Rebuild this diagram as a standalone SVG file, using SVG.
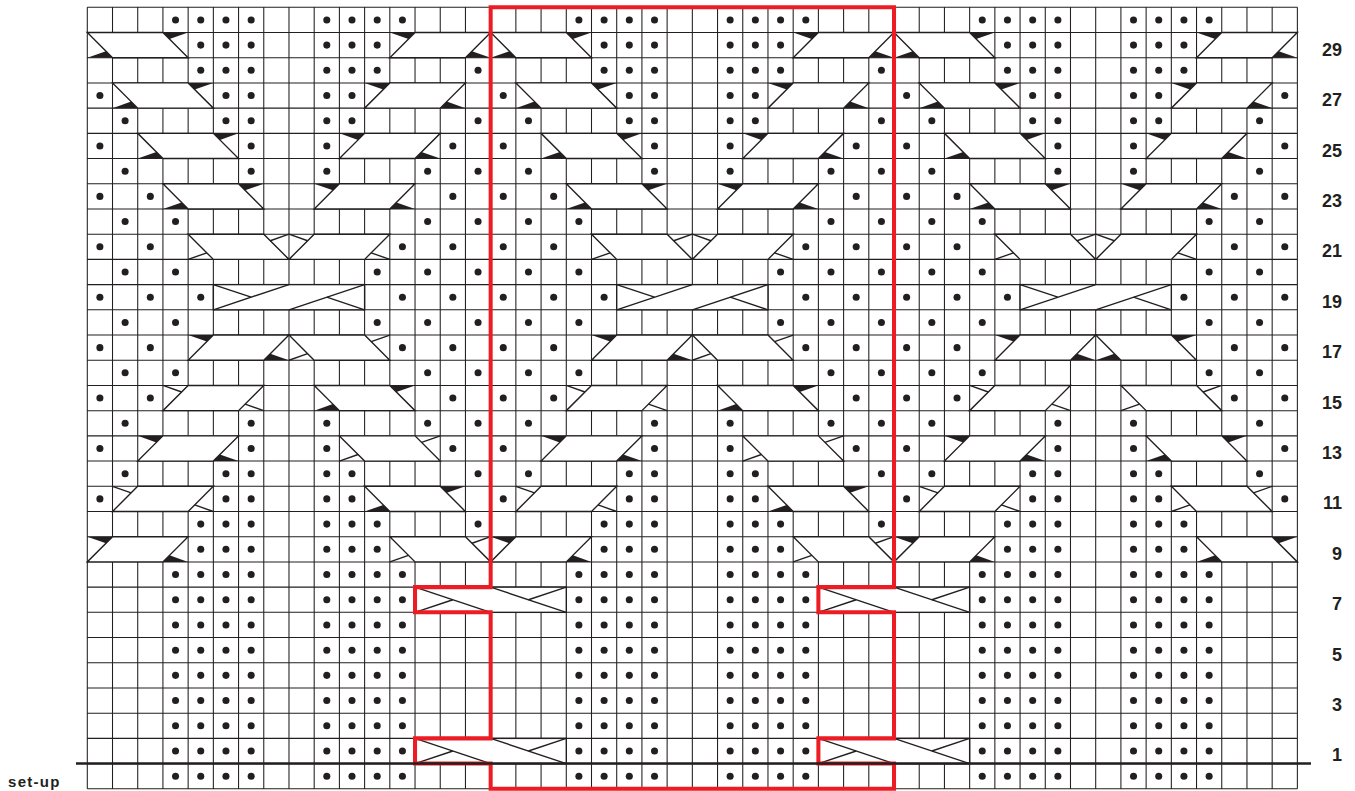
<svg xmlns="http://www.w3.org/2000/svg" xmlns:xlink="http://www.w3.org/1999/xlink" width="1355" height="791" viewBox="0 0 1355 791">
<style>
.lab{font-family:"Liberation Sans",Arial,sans-serif;font-weight:bold;font-size:18px;fill:#231f20}
.setup{font-family:"Liberation Sans",Arial,sans-serif;font-weight:bold;font-size:15px;fill:#231f20;letter-spacing:1.3px}
</style>
<defs>
<g id="halfL">
<g fill="#231f20">
<circle cx="3.5" cy="0.5" r="0.14"/><circle cx="4.5" cy="0.5" r="0.14"/><circle cx="5.5" cy="0.5" r="0.14"/><circle cx="6.5" cy="0.5" r="0.14"/>
<circle cx="4.5" cy="1.5" r="0.14"/><circle cx="5.5" cy="1.5" r="0.14"/><circle cx="6.5" cy="1.5" r="0.14"/>
<circle cx="4.5" cy="2.5" r="0.14"/><circle cx="5.5" cy="2.5" r="0.14"/><circle cx="6.5" cy="2.5" r="0.14"/>
<circle cx="0.5" cy="3.5" r="0.14"/><circle cx="5.5" cy="3.5" r="0.14"/><circle cx="6.5" cy="3.5" r="0.14"/>
<circle cx="1.5" cy="4.5" r="0.14"/><circle cx="5.5" cy="4.5" r="0.14"/><circle cx="6.5" cy="4.5" r="0.14"/>
<circle cx="0.5" cy="5.5" r="0.14"/><circle cx="6.5" cy="5.5" r="0.14"/>
<circle cx="1.5" cy="6.5" r="0.14"/><circle cx="6.5" cy="6.5" r="0.14"/>
<circle cx="0.5" cy="7.5" r="0.14"/><circle cx="2.5" cy="7.5" r="0.14"/>
<circle cx="1.5" cy="8.5" r="0.14"/><circle cx="3.5" cy="8.5" r="0.14"/>
<circle cx="0.5" cy="9.5" r="0.14"/><circle cx="2.5" cy="9.5" r="0.14"/>
<circle cx="1.5" cy="10.5" r="0.14"/><circle cx="3.5" cy="10.5" r="0.14"/>
<circle cx="0.5" cy="11.5" r="0.14"/><circle cx="2.5" cy="11.5" r="0.14"/><circle cx="4.5" cy="11.5" r="0.14"/>
<circle cx="1.5" cy="12.5" r="0.14"/><circle cx="3.5" cy="12.5" r="0.14"/>
<circle cx="0.5" cy="13.5" r="0.14"/><circle cx="2.5" cy="13.5" r="0.14"/>
<circle cx="1.5" cy="14.5" r="0.14"/><circle cx="3.5" cy="14.5" r="0.14"/>
<circle cx="0.5" cy="15.5" r="0.14"/><circle cx="2.5" cy="15.5" r="0.14"/>
<circle cx="1.5" cy="16.5" r="0.14"/><circle cx="6.5" cy="16.5" r="0.14"/>
<circle cx="0.5" cy="17.5" r="0.14"/><circle cx="6.5" cy="17.5" r="0.14"/>
<circle cx="1.5" cy="18.5" r="0.14"/><circle cx="5.5" cy="18.5" r="0.14"/><circle cx="6.5" cy="18.5" r="0.14"/>
<circle cx="0.5" cy="19.5" r="0.14"/><circle cx="5.5" cy="19.5" r="0.14"/><circle cx="6.5" cy="19.5" r="0.14"/>
<circle cx="4.5" cy="20.5" r="0.14"/><circle cx="5.5" cy="20.5" r="0.14"/><circle cx="6.5" cy="20.5" r="0.14"/>
<circle cx="4.5" cy="21.5" r="0.14"/><circle cx="5.5" cy="21.5" r="0.14"/><circle cx="6.5" cy="21.5" r="0.14"/>
<circle cx="3.5" cy="22.5" r="0.14"/><circle cx="4.5" cy="22.5" r="0.14"/><circle cx="5.5" cy="22.5" r="0.14"/><circle cx="6.5" cy="22.5" r="0.14"/>
<circle cx="3.5" cy="23.5" r="0.14"/><circle cx="4.5" cy="23.5" r="0.14"/><circle cx="5.5" cy="23.5" r="0.14"/><circle cx="6.5" cy="23.5" r="0.14"/>
<circle cx="3.5" cy="24.5" r="0.14"/><circle cx="4.5" cy="24.5" r="0.14"/><circle cx="5.5" cy="24.5" r="0.14"/><circle cx="6.5" cy="24.5" r="0.14"/>
<circle cx="3.5" cy="25.5" r="0.14"/><circle cx="4.5" cy="25.5" r="0.14"/><circle cx="5.5" cy="25.5" r="0.14"/><circle cx="6.5" cy="25.5" r="0.14"/>
<circle cx="3.5" cy="26.5" r="0.14"/><circle cx="4.5" cy="26.5" r="0.14"/><circle cx="5.5" cy="26.5" r="0.14"/><circle cx="6.5" cy="26.5" r="0.14"/>
<circle cx="3.5" cy="27.5" r="0.14"/><circle cx="4.5" cy="27.5" r="0.14"/><circle cx="5.5" cy="27.5" r="0.14"/><circle cx="6.5" cy="27.5" r="0.14"/>
<circle cx="3.5" cy="28.5" r="0.14"/><circle cx="4.5" cy="28.5" r="0.14"/><circle cx="5.5" cy="28.5" r="0.14"/><circle cx="6.5" cy="28.5" r="0.14"/>
<circle cx="3.5" cy="29.5" r="0.14"/><circle cx="4.5" cy="29.5" r="0.14"/><circle cx="5.5" cy="29.5" r="0.14"/><circle cx="6.5" cy="29.5" r="0.14"/>
<circle cx="3.5" cy="30.5" r="0.14"/><circle cx="4.5" cy="30.5" r="0.14"/><circle cx="5.5" cy="30.5" r="0.14"/><circle cx="6.5" cy="30.5" r="0.14"/>
</g>
<g stroke="#231f20" stroke-width="0.055" fill="#fff">
<polygon points="0,1 3,1 4,2 1,2"/>
<polygon points="1,3 4,3 5,4 2,4"/>
<polygon points="2,5 5,5 6,6 3,6"/>
<polygon points="3,7 6,7 7,8 4,8"/>
<polygon points="4,9 7,9 8,10 5,10"/>
<polygon points="5,13 8,13 7,14 4,14"/>
<polygon points="4,15 7,15 6,16 3,16"/>
<polygon points="3,17 6,17 5,18 2,18"/>
<polygon points="2,19 5,19 4,20 1,20"/>
<polygon points="1,21 4,21 3,22 0,22"/>
<line x1="4" y1="10" x2="4.74" y2="9.74"/><line x1="8" y1="9" x2="7.26" y2="9.26"/>
<line x1="3" y1="15" x2="3.74" y2="15.26"/><line x1="7" y1="16" x2="6.26" y2="15.74"/>
<line x1="1" y1="19" x2="1.74" y2="19.26"/><line x1="5" y1="20" x2="4.26" y2="19.74"/>
</g>
<g fill="#231f20">
<polygon points="0,2 1,2 0.74,1.74"/><polygon points="4,1 3,1 3.26,1.26"/>
<polygon points="1,4 2,4 1.74,3.74"/><polygon points="5,3 4,3 4.26,3.26"/>
<polygon points="2,6 3,6 2.74,5.74"/><polygon points="6,5 5,5 5.26,5.26"/>
<polygon points="3,8 4,8 3.74,7.74"/><polygon points="7,7 6,7 6.26,7.26"/>
<polygon points="4,13 5,13 4.74,13.26"/><polygon points="8,14 7,14 7.26,13.74"/>
<polygon points="2,17 3,17 2.74,17.26"/><polygon points="6,18 5,18 5.26,17.74"/>
<polygon points="0,21 1,21 0.74,21.26"/><polygon points="4,22 3,22 3.26,21.74"/>
</g>
</g>
<g id="halfR">
<g fill="#231f20">
<circle cx="9.5" cy="0.5" r="0.14"/><circle cx="10.5" cy="0.5" r="0.14"/><circle cx="11.5" cy="0.5" r="0.14"/><circle cx="12.5" cy="0.5" r="0.14"/>
<circle cx="9.5" cy="1.5" r="0.14"/><circle cx="10.5" cy="1.5" r="0.14"/><circle cx="11.5" cy="1.5" r="0.14"/>
<circle cx="9.5" cy="2.5" r="0.14"/><circle cx="10.5" cy="2.5" r="0.14"/><circle cx="11.5" cy="2.5" r="0.14"/><circle cx="15.5" cy="2.5" r="0.14"/>
<circle cx="9.5" cy="3.5" r="0.14"/><circle cx="10.5" cy="3.5" r="0.14"/>
<circle cx="9.5" cy="4.5" r="0.14"/><circle cx="10.5" cy="4.5" r="0.14"/><circle cx="15.5" cy="4.5" r="0.14"/>
<circle cx="9.5" cy="5.5" r="0.14"/><circle cx="14.5" cy="5.5" r="0.14"/>
<circle cx="9.5" cy="6.5" r="0.14"/><circle cx="13.5" cy="6.5" r="0.14"/><circle cx="15.5" cy="6.5" r="0.14"/>
<circle cx="14.5" cy="7.5" r="0.14"/>
<circle cx="13.5" cy="8.5" r="0.14"/><circle cx="15.5" cy="8.5" r="0.14"/>
<circle cx="12.5" cy="9.5" r="0.14"/><circle cx="14.5" cy="9.5" r="0.14"/>
<circle cx="11.5" cy="10.5" r="0.14"/><circle cx="13.5" cy="10.5" r="0.14"/><circle cx="15.5" cy="10.5" r="0.14"/>
<circle cx="12.5" cy="11.5" r="0.14"/><circle cx="14.5" cy="11.5" r="0.14"/>
<circle cx="11.5" cy="12.5" r="0.14"/><circle cx="13.5" cy="12.5" r="0.14"/><circle cx="15.5" cy="12.5" r="0.14"/>
<circle cx="12.5" cy="13.5" r="0.14"/><circle cx="14.5" cy="13.5" r="0.14"/>
<circle cx="13.5" cy="14.5" r="0.14"/><circle cx="15.5" cy="14.5" r="0.14"/>
<circle cx="14.5" cy="15.5" r="0.14"/>
<circle cx="9.5" cy="16.5" r="0.14"/><circle cx="13.5" cy="16.5" r="0.14"/><circle cx="15.5" cy="16.5" r="0.14"/>
<circle cx="9.5" cy="17.5" r="0.14"/><circle cx="14.5" cy="17.5" r="0.14"/>
<circle cx="9.5" cy="18.5" r="0.14"/><circle cx="10.5" cy="18.5" r="0.14"/><circle cx="15.5" cy="18.5" r="0.14"/>
<circle cx="9.5" cy="19.5" r="0.14"/><circle cx="10.5" cy="19.5" r="0.14"/>
<circle cx="9.5" cy="20.5" r="0.14"/><circle cx="10.5" cy="20.5" r="0.14"/><circle cx="11.5" cy="20.5" r="0.14"/><circle cx="15.5" cy="20.5" r="0.14"/>
<circle cx="9.5" cy="21.5" r="0.14"/><circle cx="10.5" cy="21.5" r="0.14"/><circle cx="11.5" cy="21.5" r="0.14"/>
<circle cx="9.5" cy="22.5" r="0.14"/><circle cx="10.5" cy="22.5" r="0.14"/><circle cx="11.5" cy="22.5" r="0.14"/><circle cx="12.5" cy="22.5" r="0.14"/>
<circle cx="9.5" cy="23.5" r="0.14"/><circle cx="10.5" cy="23.5" r="0.14"/><circle cx="11.5" cy="23.5" r="0.14"/><circle cx="12.5" cy="23.5" r="0.14"/>
<circle cx="9.5" cy="24.5" r="0.14"/><circle cx="10.5" cy="24.5" r="0.14"/><circle cx="11.5" cy="24.5" r="0.14"/><circle cx="12.5" cy="24.5" r="0.14"/>
<circle cx="9.5" cy="25.5" r="0.14"/><circle cx="10.5" cy="25.5" r="0.14"/><circle cx="11.5" cy="25.5" r="0.14"/><circle cx="12.5" cy="25.5" r="0.14"/>
<circle cx="9.5" cy="26.5" r="0.14"/><circle cx="10.5" cy="26.5" r="0.14"/><circle cx="11.5" cy="26.5" r="0.14"/><circle cx="12.5" cy="26.5" r="0.14"/>
<circle cx="9.5" cy="27.5" r="0.14"/><circle cx="10.5" cy="27.5" r="0.14"/><circle cx="11.5" cy="27.5" r="0.14"/><circle cx="12.5" cy="27.5" r="0.14"/>
<circle cx="9.5" cy="28.5" r="0.14"/><circle cx="10.5" cy="28.5" r="0.14"/><circle cx="11.5" cy="28.5" r="0.14"/><circle cx="12.5" cy="28.5" r="0.14"/>
<circle cx="9.5" cy="29.5" r="0.14"/><circle cx="10.5" cy="29.5" r="0.14"/><circle cx="11.5" cy="29.5" r="0.14"/><circle cx="12.5" cy="29.5" r="0.14"/>
<circle cx="9.5" cy="30.5" r="0.14"/><circle cx="10.5" cy="30.5" r="0.14"/><circle cx="11.5" cy="30.5" r="0.14"/><circle cx="12.5" cy="30.5" r="0.14"/>
</g>
<g stroke="#231f20" stroke-width="0.055" fill="#fff">
<polygon points="13,1 16,1 15,2 12,2"/>
<polygon points="12,3 15,3 14,4 11,4"/>
<polygon points="11,5 14,5 13,6 10,6"/>
<polygon points="10,7 13,7 12,8 9,8"/>
<polygon points="9,9 12,9 11,10 8,10"/>
<polygon points="8,13 11,13 12,14 9,14"/>
<polygon points="9,15 12,15 13,16 10,16"/>
<polygon points="10,17 13,17 14,18 11,18"/>
<polygon points="11,19 14,19 15,20 12,20"/>
<polygon points="12,21 15,21 16,22 13,22"/>
<line x1="8" y1="9" x2="8.74" y2="9.26"/><line x1="12" y1="10" x2="11.26" y2="9.74"/>
<line x1="8" y1="14" x2="8.74" y2="13.74"/><line x1="12" y1="13" x2="11.26" y2="13.26"/>
<line x1="10" y1="18" x2="10.74" y2="17.74"/><line x1="14" y1="17" x2="13.26" y2="17.26"/>
<line x1="12" y1="22" x2="12.74" y2="21.74"/><line x1="16" y1="21" x2="15.26" y2="21.26"/>
</g>
<g fill="#231f20">
<polygon points="12,1 13,1 12.74,1.26"/><polygon points="16,2 15,2 15.26,1.74"/>
<polygon points="11,3 12,3 11.74,3.26"/><polygon points="15,4 14,4 14.26,3.74"/>
<polygon points="10,5 11,5 10.74,5.26"/><polygon points="14,6 13,6 13.26,5.74"/>
<polygon points="9,7 10,7 9.74,7.26"/><polygon points="13,8 12,8 12.26,7.74"/>
<polygon points="9,16 10,16 9.74,15.74"/><polygon points="13,15 12,15 12.26,15.26"/>
<polygon points="11,20 12,20 11.74,19.74"/><polygon points="15,19 14,19 14.26,19.26"/>
</g>
</g>
<g id="cross19" stroke="#231f20" stroke-width="0.055">
<rect x="5" y="11" width="6" height="1" fill="#fff"/>
<line x1="5" y1="12" x2="8" y2="11"/>
<line x1="8" y1="12" x2="11" y2="11"/>
<line x1="5" y1="11" x2="6.5" y2="11.5"/>
<line x1="9.5" y1="11.5" x2="11" y2="12"/>
</g>
<g id="cross6" stroke="#231f20" stroke-width="0.055">
<rect x="0" y="0" width="6" height="1" fill="#fff"/>
<line x1="0" y1="0" x2="3" y2="1"/>
<line x1="0" y1="1" x2="1.5" y2="0.5"/>
<line x1="3" y1="0" x2="6" y2="1"/>
<line x1="4.5" y1="0.5" x2="6" y2="0"/>
</g>
</defs>
<rect x="0" y="0" width="1355" height="791" fill="#fff"/>
<g id="chart" transform="translate(87.3 7.3) scale(25.21)">
<path id="grid" fill="none" stroke="#231f20" stroke-width="0.042" d="M0 0V31M1 0V31M2 0V31M3 0V31M4 0V31M5 0V31M6 0V31M7 0V31M8 0V31M9 0V31M10 0V31M11 0V31M12 0V31M13 0V31M14 0V31M15 0V31M16 0V31M17 0V31M18 0V31M19 0V31M20 0V31M21 0V31M22 0V31M23 0V31M24 0V31M25 0V31M26 0V31M27 0V31M28 0V31M29 0V31M30 0V31M31 0V31M32 0V31M33 0V31M34 0V31M35 0V31M36 0V31M37 0V31M38 0V31M39 0V31M40 0V31M41 0V31M42 0V31M43 0V31M44 0V31M45 0V31M46 0V31M47 0V31M48 0V31M0 0H48M0 1H48M0 2H48M0 3H48M0 4H48M0 5H48M0 6H48M0 7H48M0 8H48M0 9H48M0 10H48M0 11H48M0 12H48M0 13H48M0 14H48M0 15H48M0 16H48M0 17H48M0 18H48M0 19H48M0 20H48M0 21H48M0 22H48M0 23H48M0 24H48M0 25H48M0 26H48M0 27H48M0 28H48M0 29H48M0 30H48M0 31H48"/>
<g id="repeat1">
<use xlink:href="#halfL" href="#halfL"/>
<use xlink:href="#halfR" href="#halfR"/>
<use xlink:href="#cross19" href="#cross19"/>
</g>
<g id="repeat2" transform="translate(16 0)">
<use xlink:href="#halfL" href="#halfL"/>
<use xlink:href="#halfR" href="#halfR"/>
<use xlink:href="#cross19" href="#cross19"/>
</g>
<g id="repeat3" transform="translate(32 0)">
<use xlink:href="#halfL" href="#halfL"/>
<use xlink:href="#halfL" href="#halfL" transform="translate(16 0) scale(-1 1)"/>
<use xlink:href="#cross19" href="#cross19"/>
</g>
<g id="crosses-rows-7-1">
<use xlink:href="#cross6" href="#cross6" transform="translate(13 23)"/>
<use xlink:href="#cross6" href="#cross6" transform="translate(29 23)"/>
<use xlink:href="#cross6" href="#cross6" transform="translate(13 29)"/>
<use xlink:href="#cross6" href="#cross6" transform="translate(29 29)"/>
</g>
<path id="repeat-outline" fill="none" stroke="#ec1c24" stroke-width="0.16" stroke-linejoin="miter" d="M16 0V23H13V24H16V29H13V30H16V31H32V30H29V29H32V24H29V23H32V0Z"/>
<line id="setup-line" x1="-0.45" y1="30" x2="48.54" y2="30" stroke="#231f20" stroke-width="0.1"/>
</g>
<g id="row-labels" class="lab" text-anchor="end">
<text x="1342" y="55.7">29</text>
<text x="1342" y="106.1">27</text>
<text x="1342" y="156.5">25</text>
<text x="1342" y="206.9">23</text>
<text x="1342" y="257.3">21</text>
<text x="1342" y="307.7">19</text>
<text x="1342" y="358.1">17</text>
<text x="1342" y="408.5">15</text>
<text x="1342" y="458.9">13</text>
<text x="1342" y="509.3">11</text>
<text x="1342" y="559.7">9</text>
<text x="1342" y="610.1">7</text>
<text x="1342" y="660.5">5</text>
<text x="1342" y="710.9">3</text>
<text x="1342" y="761.3">1</text>
</g>
<text id="setup-label" class="setup" x="8" y="787">set-up</text>
</svg>
